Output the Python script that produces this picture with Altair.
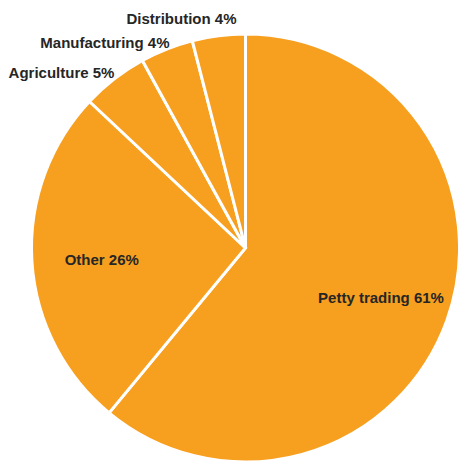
import altair as alt
import pandas as pd

categories = ["Petty trading", "Other", "Agriculture", "Manufacturing", "Distribution"]
shares = [61, 26, 5, 4, 4]
labels = ["Petty trading 61%", "Other 26%", "Agriculture 5%", "Manufacturing 4%", "Distribution 4%"]

df = pd.DataFrame({"category": categories, "share": shares, "label": labels,
                   "order": list(range(len(categories)))})

CX, CY, R = 245.5, 248, 214
ORANGE = "#F79F1F"
TEXT = "#262626"

base = alt.Chart(df).encode(
    theta=alt.Theta("share:Q", stack=True, scale=alt.Scale(range=[0, 6.283185307])),
    order=alt.Order("order:Q"),
)

pie = base.mark_arc(x=CX, y=CY, outerRadius=R, color=ORANGE,
                    stroke="white", strokeWidth=3)

font = dict(font="Liberation Sans", fontWeight="bold", fontSize=15, color=TEXT)


def label_layer(cats, r, dx, align, dy=0):
    cond = " || ".join([f"datum.category === '{c}'" for c in cats])
    return base.mark_text(x=CX, y=CY, radius=r, align=align, baseline="middle", dx=dx, dy=dy, **font
                          ).encode(text="lab:N").transform_calculate(
        lab=f"({cond}) ? datum.label : ''")


chart = alt.layer(
    pie,
    label_layer(["Petty trading"], 144, 0, "center", 1),
    label_layer(["Other"], 144, 0, "center", 3),
    label_layer(["Distribution"], 231, 20, "right"),
    label_layer(["Manufacturing"], 220, 5, "right"),
    label_layer(["Agriculture"], 222, 5, "right"),
).properties(width=458, height=462, autosize=alt.AutoSizeParams(type="none"), padding=0
).configure_view(stroke=None)

chart.save("out.html", embed_options={"renderer": "svg", "actions": False})
